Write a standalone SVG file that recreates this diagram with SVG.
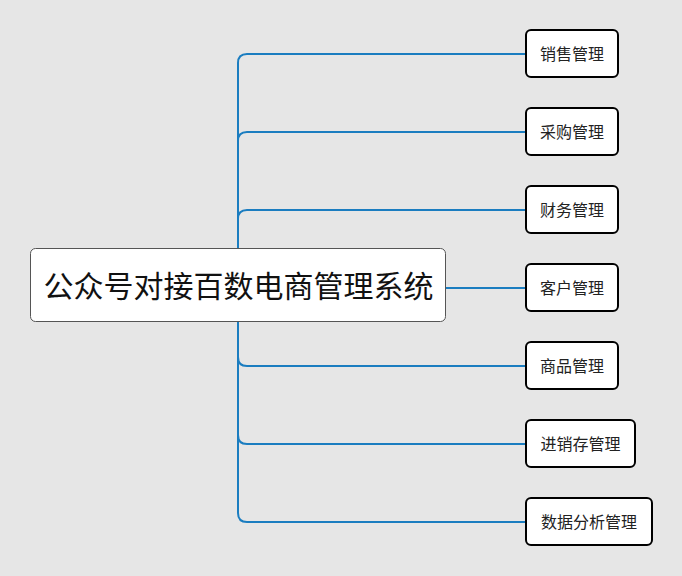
<svg xmlns="http://www.w3.org/2000/svg" width="682" height="576" viewBox="0 0 682 576">
<style>
.bg{fill:#e6e6e6}
.edge{fill:none;stroke:#1b7dc0;stroke-width:2}
.child rect{fill:#fff;stroke:#000;stroke-width:2}
.child text{font-family:"Noto Sans CJK SC","Noto Sans",sans-serif;font-size:16px;fill:#222;text-anchor:middle;dominant-baseline:central}
#root rect{fill:#fff;stroke:#555;stroke-width:1}
#root text{font-family:"Noto Sans CJK SC","Noto Sans",sans-serif;font-size:30px;fill:#111;text-anchor:middle;dominant-baseline:central}
</style>
<rect class="bg" x="0" y="0" width="682" height="576"/>
<g id="connectors">
<path class="edge" d="M526,54 H247 Q238,54 238,63 V513 Q238,522 247,522 H526"/>
<path class="edge" d="M526,132 H247 Q238,132 238,141"/>
<path class="edge" d="M526,210 H247 Q238,210 238,219"/>
<path class="edge" d="M446,288 H526"/>
<path class="edge" d="M526,366 H247 Q238,366 238,357"/>
<path class="edge" d="M526,444 H247 Q238,444 238,435"/>
</g>
<g id="root">
<rect x="30.5" y="248.5" width="415" height="73" rx="5"/>
<text x="238.5" y="284">公众号对接百数电商管理系统</text>
</g>
<g id="n1" class="child"><rect x="526" y="30" width="92" height="47" rx="5"/><text x="572" y="52.5">销售管理</text></g>
<g id="n2" class="child"><rect x="526" y="108" width="92" height="47" rx="5"/><text x="572" y="130.5">采购管理</text></g>
<g id="n3" class="child"><rect x="526" y="186" width="92" height="47" rx="5"/><text x="572" y="208.5">财务管理</text></g>
<g id="n4" class="child"><rect x="526" y="264" width="92" height="47" rx="5"/><text x="572" y="286.5">客户管理</text></g>
<g id="n5" class="child"><rect x="526" y="342" width="92" height="47" rx="5"/><text x="572" y="364.5">商品管理</text></g>
<g id="n6" class="child"><rect x="526" y="420" width="109" height="47" rx="5"/><text x="580.5" y="442.5">进销存管理</text></g>
<g id="n7" class="child"><rect x="526" y="498" width="126" height="47" rx="5"/><text x="589" y="520.5">数据分析管理</text></g>
</svg>
